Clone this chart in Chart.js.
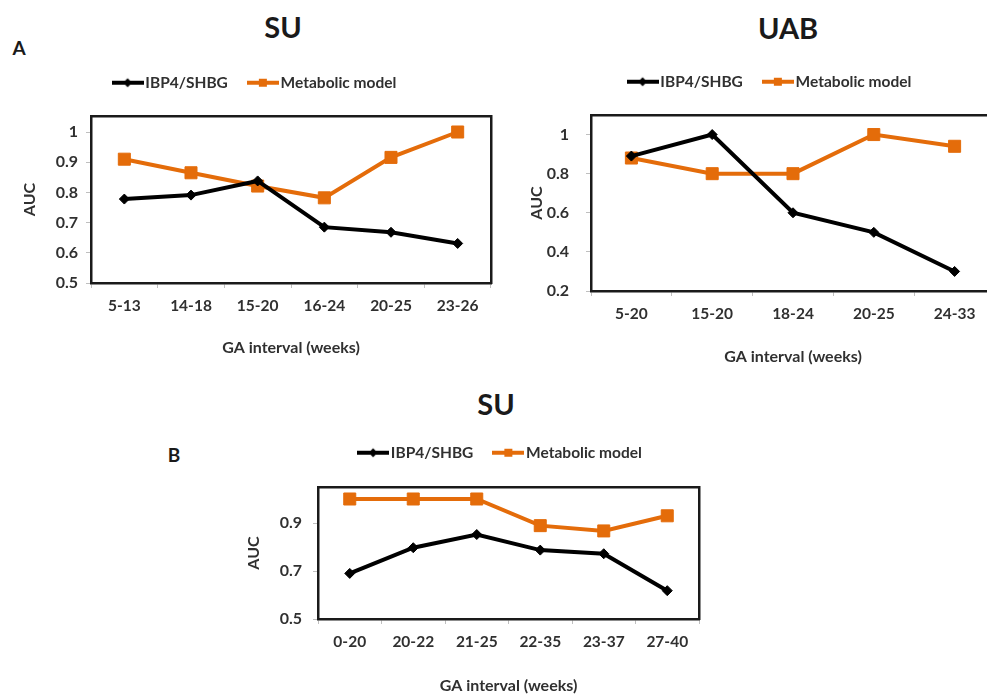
<!DOCTYPE html>
<html><head><meta charset="utf-8">
<script src="https://cdn.jsdelivr.net/npm/chart.js@4/dist/chart.umd.min.js"></script>
<style>
html,body{margin:0;padding:0;width:987px;height:696px;overflow:hidden;background:#fff;font-family:Lato,"Open Sans",sans-serif;}
canvas{position:absolute;}
.t{position:absolute;transform:translate(-50%,-50%);font-weight:bold;color:#1a1a1a;white-space:nowrap;line-height:1;}
</style></head><body>
<div class="t" style="left:19px;top:47px;font-size:19px">A</div>
<div class="t" style="left:283px;top:26px;font-size:29px">SU</div>
<div class="t" style="left:788px;top:27px;font-size:29px">UAB</div>
<div class="t" style="left:496px;top:403px;font-size:29px">SU</div>
<div class="t" style="left:174px;top:454px;font-size:19px">B</div>
<canvas id="cA" width="514" height="317" style="left:0px;top:40px"></canvas>
<canvas id="cU" width="504" height="326" style="left:520px;top:40px"></canvas>
<canvas id="cB" width="545" height="285" style="left:230px;top:410px"></canvas>
<script>
// ---- data ----
const seriesNames = ['IBP4/SHBG', 'Metabolic model'];

const catsA = ['5-13', '14-18', '15-20', '16-24', '20-25', '23-26'];
const ibpA  = [0.778, 0.791, 0.838, 0.685, 0.668, 0.631];
const metA  = [0.910, 0.865, 0.821, 0.782, 0.916, 1.000];
const yTicksA = [0.5, 0.6, 0.7, 0.8, 0.9, 1];

const catsU = ['5-20', '15-20', '18-24', '20-25', '24-33'];
const ibpU  = [0.89, 1.00, 0.60, 0.50, 0.30];
const metU  = [0.88, 0.80, 0.80, 1.00, 0.94];
const yTicksU = [0.2, 0.4, 0.6, 0.8, 1];

const catsB = ['0-20', '20-22', '21-25', '22-35', '23-37', '27-40'];
const ibpB  = [0.690, 0.797, 0.852, 0.787, 0.772, 0.618];
const metB  = [1.000, 1.000, 1.000, 0.889, 0.867, 0.930];
const yTicksB = [0.5, 0.7, 0.9];

// ---- styles ----
const ORANGE = '#E46C0A', BLACK = '#000000', FRAME = '#1a1a1a', TXT = '#303030', TICKC = '#bfbfbf';
const FONT = 'Lato, "Open Sans", sans-serif';

function icon(color, style) {
  const c = document.createElement('canvas');
  c.width = 32; c.height = 14;
  const g = c.getContext('2d');
  g.strokeStyle = color; g.lineWidth = 4;
  g.beginPath(); g.moveTo(0, 7); g.lineTo(32, 7); g.stroke();
  g.fillStyle = color;
  if (style === 'rect') { g.fillRect(12, 3, 8, 8); }
  else { g.beginPath(); g.moveTo(16, 2.5); g.lineTo(20.5, 7); g.lineTo(16, 11.5); g.lineTo(11.5, 7); g.closePath(); g.fill(); }
  return c;
}
const icons = [icon(BLACK, 'diamond'), icon(ORANGE, 'rect')];

function makePanel(id, cats, ibp, met, yTicks, g) {
  const border = {display: true, color: FRAME, width: 2.5};
  new Chart(document.getElementById(id), {
    type: 'line',
    data: {
      labels: cats,
      datasets: [
        {label: seriesNames[0], data: ibp, xAxisID: 'x', yAxisID: 'y',
         borderColor: BLACK, backgroundColor: BLACK, borderWidth: 4,
         pointStyle: 'rectRot', pointRadius: 5, pointBorderWidth: 1, pointBorderColor: BLACK, pointBackgroundColor: BLACK,
         tension: 0, fill: false},
        {label: seriesNames[1], data: met, xAxisID: 'x', yAxisID: 'y',
         borderColor: ORANGE, backgroundColor: ORANGE, borderWidth: 4,
         pointStyle: 'rect', pointRadius: 8.5, pointBorderWidth: 1, pointBorderColor: ORANGE, pointBackgroundColor: ORANGE,
         tension: 0, fill: false}
      ]
    },
    options: {
      responsive: false, animation: false, devicePixelRatio: 1,
      layout: {padding: {left: 0, right: 0, top: g.pt, bottom: 0}},
      plugins: {
        tooltip: {enabled: false},
        legend: {
          position: 'top',
          labels: {
            usePointStyle: true, pointStyleWidth: 20, padding: g.lp,
            font: {family: FONT, size: 15.5, weight: 'bold'}, color: TXT,
            generateLabels: (chart) => chart.data.datasets.map((ds, i) => ({
              text: ds.label, pointStyle: icons[i], fillStyle: 'rgba(0,0,0,0)',
              strokeStyle: 'rgba(0,0,0,0)', lineWidth: 0, hidden: false, datasetIndex: i, fontColor: TXT
            }))
          }
        }
      },
      scales: {
        x: {
          type: 'category', position: 'bottom', offset: true,
          grid: {offset: true, drawOnChartArea: false, drawTicks: true, tickLength: 5, color: TICKC, lineWidth: 1},
          border: border,
          ticks: {padding: 9, autoSkip: false, maxRotation: 0, font: {family: FONT, size: 15.5, weight: 'bold'}, color: TXT},
          title: {display: true, text: 'GA interval (weeks)', padding: 0, font: {family: FONT, size: 16, weight: 'bold'}, color: TXT},
          afterFit: s => { s.height = g.xH; }
        },
        x2: {
          type: 'category', position: 'top', display: true, offset: true,
          grid: {drawOnChartArea: false, drawTicks: false},
          border: border, ticks: {display: false},
          afterFit: s => { s.height = g.x2H; }
        },
        y: {
          type: 'linear', position: 'left', min: g.yMin, max: g.yMax,
          afterBuildTicks: s => { s.ticks = yTicks.map(v => ({value: v})); },
          grid: {drawOnChartArea: false, drawTicks: true, tickLength: 5, color: TICKC, lineWidth: 1},
          border: border,
          ticks: {padding: g.ytp, callback: v => String(v), font: {family: FONT, size: 16, weight: 'bold'}, color: TXT},
          title: {display: true, text: 'AUC', padding: {top: g.ytt, bottom: 0}, font: {family: FONT, size: 16, weight: 'bold'}, color: TXT},
          afterFit: s => { s.width = g.yW; }
        },
        y2: {
          type: 'linear', position: 'right', display: true,
          grid: {drawOnChartArea: false, drawTicks: false},
          border: border, ticks: {display: false},
          afterFit: s => { s.width = g.y2W; }
        }
      }
    }
  });
}

makePanel('cA', catsA, ibpA, metA, yTicksA, {pt: 10, lp: 25, x2H: 15.5, xH: 74, yW: 91, y2W: 23, ytt: 20.4, ytp: 8, yMin: 0.5, yMax: 1.053});
makePanel('cU', catsU, ibpU, metU, yTicksU, {pt: 9, lp: 25, x2H: 15.5, xH: 75, yW: 71, y2W: 29, ytt: 6.9, ytp: 17, yMin: 0.2, yMax: 1.1});
makePanel('cB', catsB, ibpB, metB, yTicksB, {pt: 10, lp: 25, x2H: 16.5, xH: 76, yW: 88, y2W: 76, ytt: 13.9, ytp: 11, yMin: 0.5, yMax: 1.05});
</script>
</body></html>
